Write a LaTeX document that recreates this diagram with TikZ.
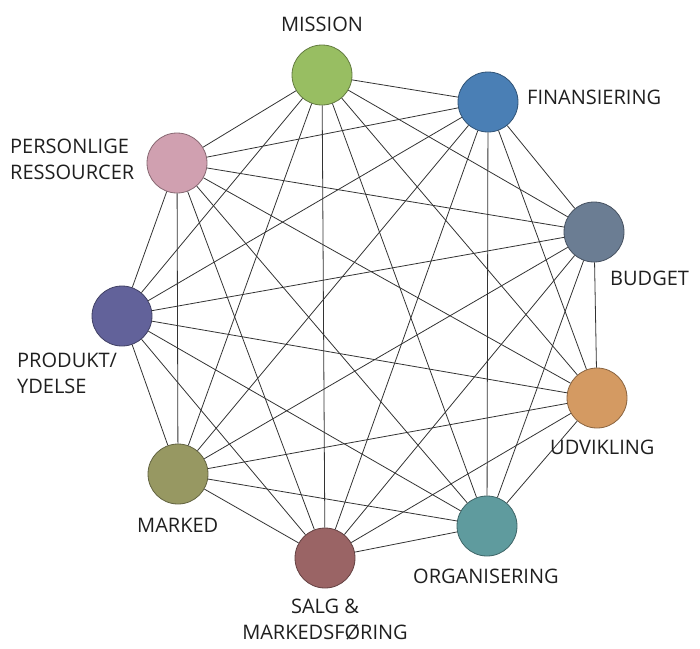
\documentclass[tikz,border=0pt]{standalone}
\usepackage{fontspec}
\setmainfont{Open Sans}
\definecolor{cMis}{HTML}{98BE62}
\definecolor{cFin}{HTML}{4A7FB5}
\definecolor{cBud}{HTML}{6B7D93}
\definecolor{cUdv}{HTML}{D49A62}
\definecolor{cOrg}{HTML}{5F9B9E}
\definecolor{cSal}{HTML}{9A6465}
\definecolor{cMar}{HTML}{979862}
\definecolor{cPro}{HTML}{62629A}
\definecolor{cPer}{HTML}{D0A0B0}
\definecolor{edge}{HTML}{333333}
\begin{document}
\begin{tikzpicture}[x=1pt,y=-1pt,
  dot/.style={circle,minimum size=60pt,inner sep=0pt,draw=#1!65!black,fill=#1,line width=0.8pt},
  lbl/.style={font=\fontsize{20}{26}\selectfont,text=black!88,inner sep=0pt},
  link/.style={draw=edge,line width=0.8pt}]
\useasboundingbox (0,0) rectangle (700,648);
\node[dot=cMis] (mis) at (322,75) {};
\node[dot=cFin] (fin) at (488,102) {};
\node[dot=cBud] (bud) at (594,232) {};
\node[dot=cUdv] (udv) at (597,398) {};
\node[dot=cOrg] (org) at (487,526) {};
\node[dot=cSal] (sal) at (325,558) {};
\node[dot=cMar] (mar) at (178,474) {};
\node[dot=cPro] (pro) at (122,316) {};
\node[dot=cPer] (per) at (177,163) {};
\foreach \a/\b in {mis/fin,mis/bud,mis/udv,mis/org,mis/sal,mis/mar,mis/pro,mis/per,
  fin/bud,fin/udv,fin/org,fin/sal,fin/mar,fin/pro,fin/per,
  bud/udv,bud/org,bud/sal,bud/mar,bud/pro,bud/per,
  udv/org,udv/sal,udv/mar,udv/pro,udv/per,
  org/sal,org/mar,org/pro,org/per,
  sal/mar,sal/pro,sal/per,
  mar/pro,mar/per,
  pro/per}
  \draw[link] (\a) -- (\b);
\node[lbl] (tmis) at (322,24) {MISSION};
\node[lbl,anchor=west] (tfin) at (527,97) {FINANSIERING};
\node[lbl,anchor=west] (tbud) at (610,278) {BUDGET};
\node[lbl,anchor=west] (tudv) at (550,447) {UDVIKLING};
\node[lbl,anchor=west] (torg) at (413,576) {ORGANISERING};
\node[lbl,align=center] (tsal) at (325,620) {SALG \&\\MARKEDSFØRING};
\node[lbl,anchor=west] (tmar) at (137,525) {MARKED};
\node[lbl,align=left,anchor=west] (tpro) at (17,373) {PRODUKT/\\YDELSE};
\node[lbl,align=left,anchor=west] (tper) at (10,159) {PERSONLIGE\\RESSOURCER};
\end{tikzpicture}
\end{document}
